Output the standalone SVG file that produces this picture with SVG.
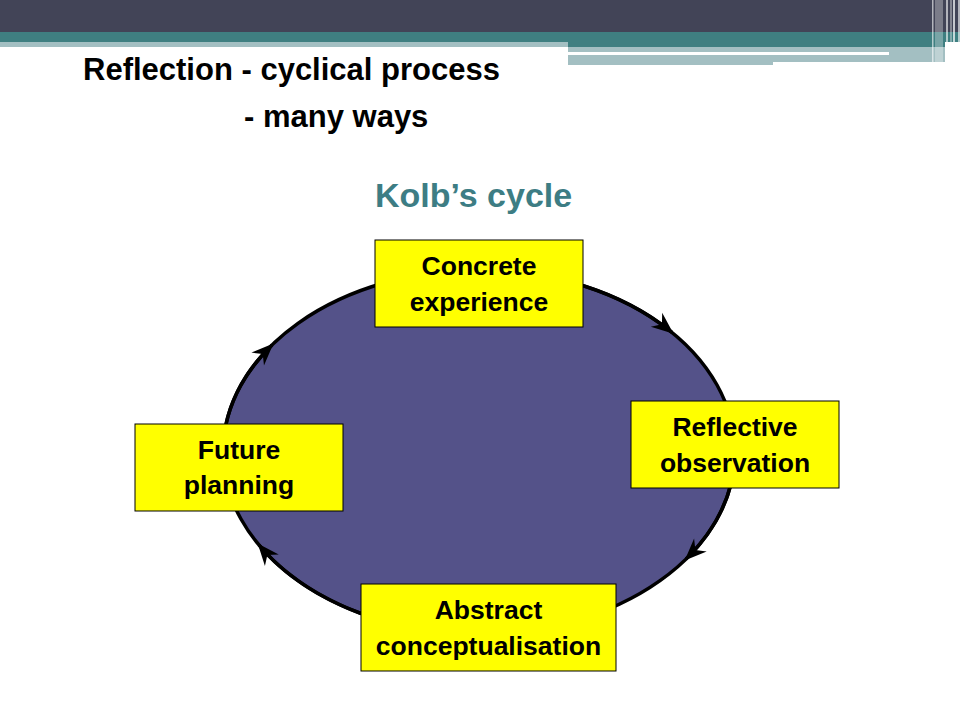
<svg xmlns="http://www.w3.org/2000/svg" width="960" height="720" viewBox="0 0 960 720">
  <style>
    .title { font-family: "Liberation Sans", Arial, sans-serif; font-weight: bold; font-size: 31px; fill: #000000; }
    .kolb { font-family: "Liberation Sans", Arial, sans-serif; font-weight: bold; font-size: 34px; fill: #3d7d84; }
    .box { fill: #ffff00; stroke: #000000; stroke-width: 1; }
    .label { font-family: "Liberation Sans", Arial, sans-serif; font-weight: bold; font-size: 26.5px; fill: #000000; text-anchor: middle; }
    .conn { fill: none; stroke: #000000; stroke-width: 3.5; stroke-linecap: butt; }
  </style>
  <defs>
    <marker id="arrow" markerUnits="userSpaceOnUse" viewBox="-24 -12 28 24" refX="0" refY="0" markerWidth="28" markerHeight="24" orient="auto">
      <path d="M2,0 L-20,-9 L-13,0 L-20,9 Z" fill="#000000"/>
    </marker>
  </defs>
  <rect x="0" y="0" width="960" height="720" fill="#ffffff"/>

  <!-- header bands -->
  <g id="header">
    <rect x="0" y="0" width="960" height="32" fill="#424457"/>
    <rect x="0" y="32" width="960" height="10" fill="#3f7f81"/>
    <rect x="568" y="42" width="377" height="5" fill="#3f7f81"/>
    <rect x="0" y="42" width="568" height="5" fill="#a3bfc2"/>
    <rect x="568" y="47" width="205" height="18" fill="#a3bfc2"/>
    <rect x="773" y="47" width="172" height="15" fill="#a3bfc2"/>
    <rect x="568" y="52" width="321" height="3" fill="#ffffff"/>
    <rect x="932" y="0" width="1.5" height="64" fill="#ffffff" opacity="0.6"/>
    <rect x="935" y="0" width="8" height="64" fill="#ffffff" opacity="0.3"/>
    <rect x="946" y="0" width="2" height="64" fill="#ffffff" opacity="0.6"/>
    <rect x="950" y="0" width="2" height="64" fill="#ffffff" opacity="0.35"/>
    <rect x="953" y="0" width="2" height="64" fill="#ffffff" opacity="0.7"/>
    <rect x="958" y="0" width="2" height="64" fill="#ffffff" opacity="0.6"/>
  </g>

  <g id="titles">
    <text class="title" x="83" y="80">Reflection - cyclical process</text>
    <text class="title" x="244" y="127">- many ways</text>
    <text class="kolb" x="375" y="207">Kolb’s cycle</text>
  </g>

  <!-- cycle background -->
  <g id="cycle">
    <ellipse cx="479" cy="452" rx="256" ry="182" fill="#545289" stroke="#000000" stroke-width="3.5"/>
  </g>

  <g id="connectors">
    <path class="conn" d="M583,285.7 A256,182 0 0 1 672,332.4" marker-end="url(#arrow)"/>
    <path class="conn" d="M730.2,487 A256,182 0 0 1 686.1,559" marker-end="url(#arrow)"/>
    <path class="conn" d="M361,613.5 A256,182 0 0 1 259,545" marker-end="url(#arrow)"/>
    <path class="conn" d="M226.1,424 A256,182 0 0 1 272,345" marker-end="url(#arrow)"/>
  </g>

  <g id="concrete-experience">
    <rect class="box" x="375" y="240" width="208" height="87"/>
    <text class="label" x="479" y="275">Concrete</text>
    <text class="label" x="479" y="311">experience</text>
  </g>

  <g id="reflective-observation">
    <rect class="box" x="631" y="401" width="208" height="87"/>
    <text class="label" x="735" y="436">Reflective</text>
    <text class="label" x="735" y="472">observation</text>
  </g>

  <g id="abstract-conceptualisation">
    <rect class="box" x="361" y="584" width="255" height="87"/>
    <text class="label" x="488.5" y="619">Abstract</text>
    <text class="label" x="488.5" y="655">conceptualisation</text>
  </g>

  <g id="future-planning">
    <rect class="box" x="135" y="424" width="208" height="87"/>
    <text class="label" x="239" y="459">Future</text>
    <text class="label" x="239" y="494">planning</text>
  </g>
</svg>
